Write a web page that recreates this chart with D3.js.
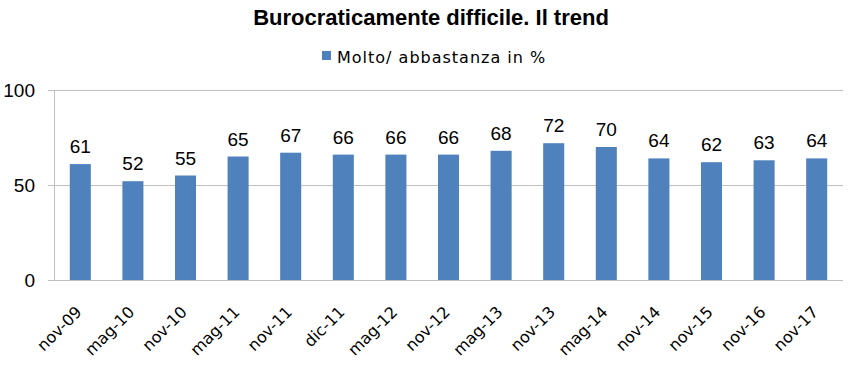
<!DOCTYPE html>
<html>
<head>
<meta charset="utf-8">
<script src="https://cdn.jsdelivr.net/npm/d3@7"></script>
<style>
  body { margin: 0; background: #fff; }
  svg { display: block; }
</style>
</head>
<body>
<svg id="chart"></svg>
<script>
// data
const categories = ["nov-09", "mag-10", "nov-10", "mag-11", "nov-11", "dic-11", "mag-12", "nov-12",
  "mag-13", "nov-13", "mag-14", "nov-14", "nov-15", "nov-16", "nov-17"];
const values = [61, 52, 55, 65, 67, 66, 66, 66, 68, 72, 70, 64, 62, 63, 64];
const yTicks = [0, 50, 100];
const seriesName = "Molto/ abbastanza in %";
const title = "Burocraticamente difficile. Il trend";

const width = 862, height = 378;
const margin = {top: 90, right: 19, bottom: 98, left: 54};
const font = "'Liberation Sans', sans-serif";
const wideFont = "'DejaVu Sans', sans-serif";
const barColor = "#4f81bd";

const svg = d3.select("#chart")
  .attr("width", width)
  .attr("height", height);

const x = d3.scaleBand()
  .domain(categories)
  .range([margin.left, width - margin.right])
  .paddingInner(0.6)
  .paddingOuter(0.3);

const y = d3.scaleLinear()
  .domain([0, 100])
  .range([height - margin.bottom, margin.top]);

// left axis with short ticks
const yAxis = svg.append("g")
  .attr("transform", "translate(" + margin.left + ",0)")
  .call(d3.axisLeft(y).tickValues(yTicks).tickSize(6).tickPadding(13));
yAxis.select(".domain").attr("stroke", "#bfbfbf");
yAxis.selectAll(".tick line").attr("stroke", "#bfbfbf");
yAxis.selectAll(".tick text")
  .attr("font-family", font)
  .attr("font-size", 19)
  .attr("fill", "#000");

// gridlines
svg.append("g")
  .selectAll("line")
  .data(yTicks)
  .join("line")
  .attr("x1", margin.left)
  .attr("x2", width - margin.right)
  .attr("y1", d => y(d) + 0.5)
  .attr("y2", d => y(d) + 0.5)
  .attr("stroke", "#bfbfbf");

// bars
svg.append("g")
  .selectAll("rect")
  .data(values)
  .join("rect")
  .attr("x", (d, i) => x(categories[i]))
  .attr("y", d => y(d))
  .attr("width", x.bandwidth())
  .attr("height", d => y(0) - y(d))
  .attr("fill", barColor);

// value labels
svg.append("g")
  .selectAll("text")
  .data(values)
  .join("text")
  .attr("x", (d, i) => x(categories[i]) + x.bandwidth() / 2)
  .attr("y", d => y(d) - 11)
  .attr("text-anchor", "middle")
  .attr("font-family", font)
  .attr("font-size", 19)
  .attr("fill", "#000")
  .text(d => d);

// x labels, rotated
svg.append("g")
  .selectAll("text")
  .data(categories)
  .join("text")
  .attr("transform", d => "translate(" + (x(d) + x.bandwidth() / 2 + 2.5) + "," + (y(0) + 33) + ") rotate(-45)")
  .attr("text-anchor", "end")
  .attr("font-family", wideFont)
  .attr("font-size", 16)
  .attr("fill", "#000")
  .text(d => d);

// title
svg.append("text")
  .attr("x", 431)
  .attr("y", 25)
  .attr("text-anchor", "middle")
  .attr("font-family", font)
  .attr("font-weight", "bold")
  .attr("font-size", 22)
  .text(title);

// legend
const legend = svg.append("g").attr("transform", "translate(322,51)");
legend.append("rect")
  .attr("width", 9)
  .attr("height", 9)
  .attr("fill", barColor);
legend.append("text")
  .attr("x", 15)
  .attr("y", 12)
  .attr("font-family", wideFont)
  .attr("font-size", 16)
  .attr("letter-spacing", 1)
  .text(seriesName);
</script>
</body>
</html>
